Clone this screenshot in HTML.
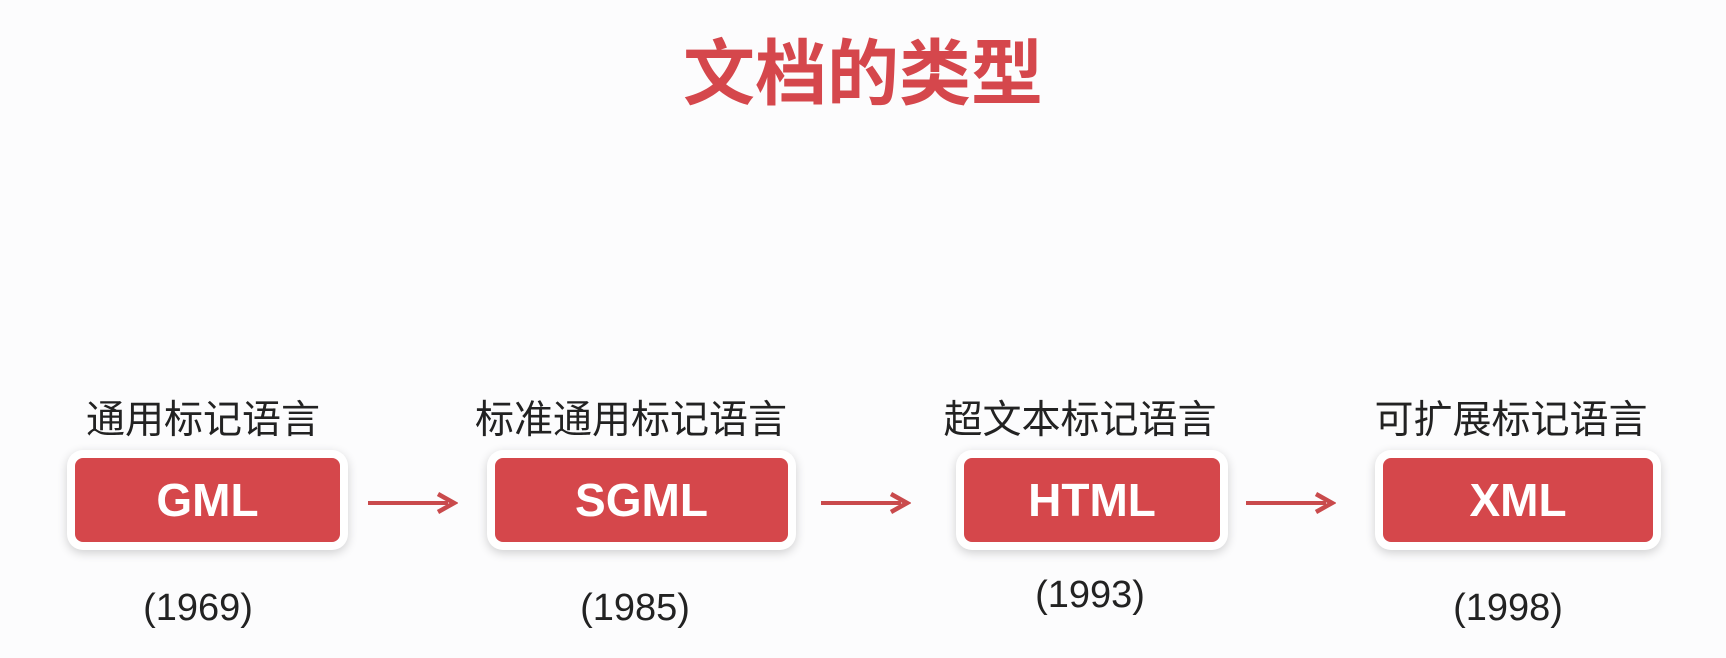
<!DOCTYPE html>
<html><head><meta charset="utf-8"><style>
body{margin:0;width:1726px;height:658px;background:#fcfcfd;position:relative;overflow:hidden;font-family:"Liberation Sans","Noto Sans CJK SC",sans-serif}
.t{position:absolute;left:0;width:1726px;top:30px;text-align:center;font-size:72px;font-weight:bold;color:#d5474c;line-height:90px}
.lab{position:absolute;font-size:39px;color:#222;text-align:center;width:400px;line-height:44px}
.yr{position:absolute;font-size:38px;color:#222;text-align:center;width:200px;line-height:44px}
.box{position:absolute;top:458px;height:84px;background:#d5474b;border-radius:8px;box-shadow:0 0 0 8px #fff,0 3px 10px 8px rgba(0,0,0,0.18);color:#fff;font-weight:bold;font-size:46px;text-align:center;line-height:84px}
.arr{position:absolute;top:491px}
</style></head><body>
<div class="t">文档的类型</div>
<div class="lab" style="left:3px;top:399px">通用标记语言</div>
<div class="lab" style="left:431px;top:399px">标准通用标记语言</div>
<div class="lab" style="left:880px;top:399px">超文本标记语言</div>
<div class="lab" style="left:1311px;top:399px">可扩展标记语言</div>
<div class="box" style="left:75px;width:265px">GML</div>
<div class="box" style="left:495px;width:293px">SGML</div>
<div class="box" style="left:964px;width:256px">HTML</div>
<div class="box" style="left:1383px;width:270px">XML</div>
<svg class="arr" style="left:366px" width="92" height="24"><path d="M2 12H82" stroke="#c94a4c" stroke-width="4"/><path d="M72 3L88 12L72 21" fill="none" stroke="#c94a4c" stroke-width="4.5"/></svg>
<svg class="arr" style="left:819px" width="92" height="24"><path d="M2 12H82" stroke="#c94a4c" stroke-width="4"/><path d="M72 3L88 12L72 21" fill="none" stroke="#c94a4c" stroke-width="4.5"/></svg>
<svg class="arr" style="left:1244px" width="92" height="24"><path d="M2 12H82" stroke="#c94a4c" stroke-width="4"/><path d="M72 3L88 12L72 21" fill="none" stroke="#c94a4c" stroke-width="4.5"/></svg>
<div class="yr" style="left:98px;top:586px">(1969)</div>
<div class="yr" style="left:535px;top:586px">(1985)</div>
<div class="yr" style="left:990px;top:573px">(1993)</div>
<div class="yr" style="left:1408px;top:586px">(1998)</div>
</body></html>
